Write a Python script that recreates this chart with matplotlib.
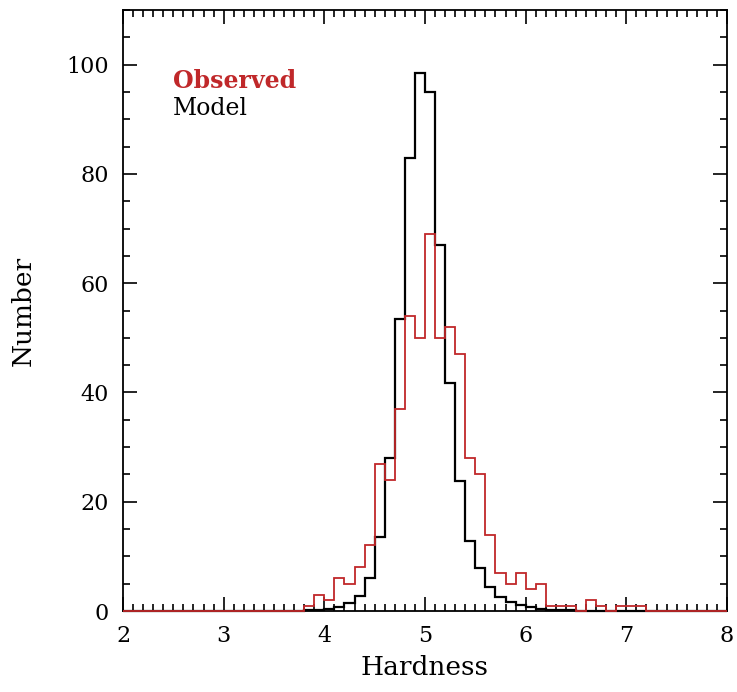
import numpy as np
import matplotlib
matplotlib.use('Agg')
import matplotlib.pyplot as plt
from matplotlib.ticker import MultipleLocator

# histogram counts, bins of 0.1 in hardness starting at 3.8
bin_start = 3.8
bin_width = 0.1
observed = [1, 3, 2, 6, 5, 8, 12, 27, 24, 37, 54, 50, 69, 50, 52, 47, 28, 25,
            14, 7, 5, 7, 4, 5, 1, 1, 1, 0, 2, 1, 0, 1, 1, 1]
model = [0.1, 0.2, 0.4, 0.7, 1.4, 2.7, 6.0, 13.6, 28, 53.5, 83, 98.5, 95, 67,
         41.8, 23.8, 12.9, 7.8, 4.4, 2.6, 1.7, 1.1, 0.7, 0.4, 0.2, 0.1, 0.1,
         0, 0, 0, 0, 0, 0, 0]

x_range = (2, 8)
red = '#c0282a'

plt.rcParams['font.family'] = ['DejaVu Serif']

fig = plt.figure(figsize=(7.37, 6.92), dpi=100)
ax = fig.add_axes([0.1669, 0.117, 0.8195, 0.8685])

# pad the data out to the full axis range with empty bins
nbins = int(round((x_range[1] - x_range[0]) / bin_width))
edges = x_range[0] + bin_width * np.arange(nbins + 1)
offset = int(round((bin_start - x_range[0]) / bin_width))
obs_full = np.zeros(nbins)
mod_full = np.zeros(nbins)
obs_full[offset:offset + len(observed)] = observed
mod_full[offset:offset + len(model)] = model

ax.stairs(mod_full, edges, color='black', lw=1.6, clip_on=False, zorder=3)
ax.stairs(obs_full, edges, color=red, lw=1.3, clip_on=False, zorder=4)

ax.set_xlim(*x_range)
ax.set_ylim(0, 110)
ax.xaxis.set_major_locator(MultipleLocator(1))
ax.xaxis.set_minor_locator(MultipleLocator(0.1))
ax.yaxis.set_major_locator(MultipleLocator(20))
ax.yaxis.set_minor_locator(MultipleLocator(5))
ax.tick_params(which='both', direction='in', top=True, right=True, width=1.2,
               labelsize=16)
ax.tick_params(which='major', length=10, pad=10)
ax.tick_params(which='minor', length=5)
for s in ax.spines.values():
    s.set_linewidth(1.3)

ax.set_xlabel('Hardness', fontsize=19, labelpad=6)
ax.set_ylabel('Number', fontsize=19, labelpad=22)

ax.text(2.5, 97, 'Observed', color=red, fontsize=17, fontweight='bold',
        va='center')
ax.text(2.5, 92, 'Model', color='black', fontsize=17, va='center')

fig.savefig('out.png', dpi=100)
